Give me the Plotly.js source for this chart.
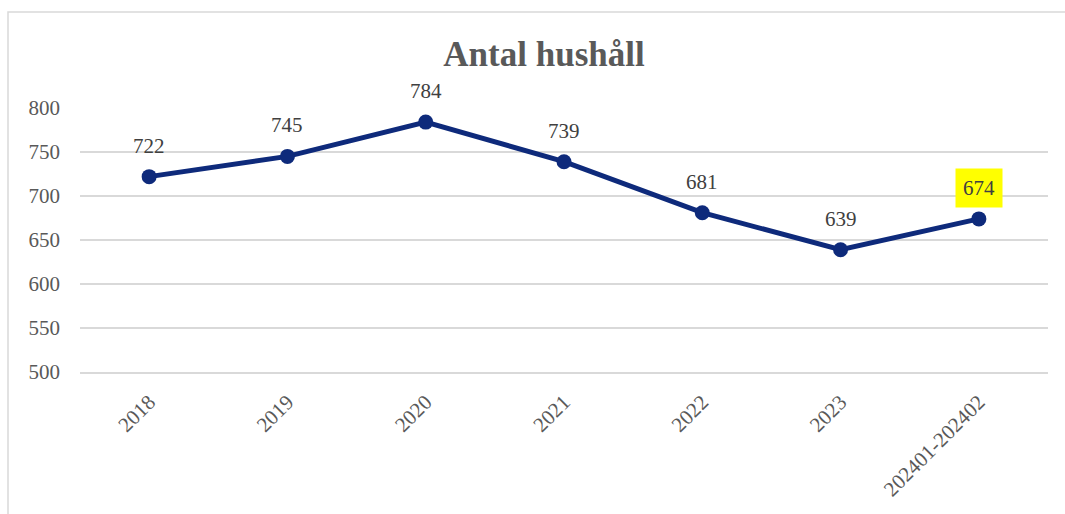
<!DOCTYPE html>
<html>
<head>
<meta charset="utf-8">
<script src="https://cdn.plot.ly/plotly-3.0.1.min.js"></script>
<style>html,body{margin:0;padding:0;background:#fff;}#chart{width:1065px;height:514px;}</style>
</head>
<body>
<div id="chart"></div>
<script>
const categories = ["2018", "2019", "2020", "2021", "2022", "2023", "202401-202402"];
const households = [722, 745, 784, 739, 681, 639, 674];
const highlighted = [false, false, false, false, false, false, true];
const yTicks = [500, 550, 600, 650, 700, 750, 800];

const fontFamily = '"Liberation Serif", "DejaVu Serif", serif';
const lineColor = '#0E2A7B';

const trace = {
  x: categories,
  y: households,
  type: 'scatter',
  mode: 'lines+markers',
  line: {color: lineColor, width: 5},
  marker: {color: lineColor, size: 15},
  hoverinfo: 'x+y'
};

const annotations = categories.map((c, i) => ({
  x: i, y: households[i], xref: 'x', yref: 'y',
  text: String(households[i]),
  showarrow: false,
  yanchor: 'middle',
  yshift: 31,
  font: {family: fontFamily, size: 21, color: '#404040'},
  bgcolor: highlighted[i] ? '#FFFF00' : 'rgba(0,0,0,0)',
  borderpad: highlighted[i] ? 7 : 0
}));

const layout = {
  width: 1065, height: 514,
  margin: {l: 80, r: 17, t: 108, b: 142},
  paper_bgcolor: '#fff', plot_bgcolor: '#fff',
  showlegend: false,
  title: {
    text: '<b>Antal hushåll</b>',
    font: {family: fontFamily, size: 35, color: '#595959'},
    x: 544 / 1065, xref: 'container', xanchor: 'center',
    y: 1 - 54 / 514, yref: 'container', yanchor: 'middle'
  },
  xaxis: {
    type: 'category',
    categoryorder: 'array',
    categoryarray: categories,
    range: [-0.5, categories.length - 0.5],
    autorange: false,
    tickangle: -45,
    ticklabelstandoff: 8,
    tickfont: {family: fontFamily, size: 21, color: '#595959'},
    showgrid: false, zeroline: false,
    showline: true, linecolor: '#D9D9D9', linewidth: 1.5,
    ticks: '', ticklen: 0
  },
  yaxis: {
    range: [500, 800],
    autorange: false,
    tickvals: yTicks,
    ticktext: yTicks.map(String),
    ticklabelstandoff: 19,
    tickfont: {family: fontFamily, size: 21, color: '#595959'},
    showgrid: true, gridcolor: '#D9D9D9', gridwidth: 1.5,
    zeroline: false, showline: false, ticks: '', ticklen: 0
  },
  annotations: annotations,
  shapes: [{
    type: 'rect', xref: 'paper', yref: 'paper',
    x0: (8 - 80) / 968, x1: 1.2,
    y0: -0.7, y1: (372 - 12) / 264,
    line: {color: '#D9D9D9', width: 1.5},
    fillcolor: 'rgba(0,0,0,0)', layer: 'below'
  }]
};

Plotly.newPlot('chart', [trace], layout, {displayModeBar: false, staticPlot: true});
</script>
</body>
</html>
